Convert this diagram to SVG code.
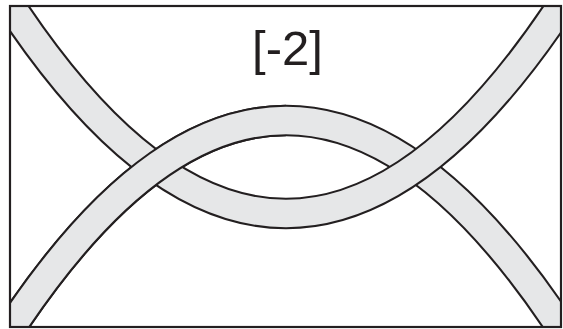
<svg xmlns="http://www.w3.org/2000/svg" width="563" height="329" viewBox="0 0 563 329">
  <style>
    .edge { fill: none; stroke: #231f20; stroke-width: 31.6; }
    .fill { fill: none; stroke: #e6e7e8; stroke-width: 27.4; }
    .label { font-family: "Liberation Sans", Arial, sans-serif; font-size: 49px; fill: #231f20; }
  </style>
  <defs>
    <clipPath id="frameClip">
      <rect x="10" y="6" width="551" height="321"/>
    </clipPath>
    <clipPath id="leftHalf">
      <rect x="0" y="0" width="286" height="329"/>
    </clipPath>
    <path id="arch" d="M -14 367.1 Q 286 -126.1 586 367.1"/>
    <path id="ucurve" d="M -14 -33.1 Q 286 460.1 586 -33.1"/>
  </defs>
  <rect x="0" y="0" width="563" height="329" fill="#ffffff"/>
  <g id="bands" clip-path="url(#frameClip)">
    <g id="band-arch">
      <use href="#arch" class="edge"/>
      <use href="#arch" class="fill"/>
    </g>
    <g id="band-u">
      <use href="#ucurve" class="edge"/>
      <use href="#ucurve" class="fill"/>
    </g>
    <g id="band-arch-over" clip-path="url(#leftHalf)">
      <use href="#arch" class="edge"/>
      <use href="#arch" class="fill"/>
    </g>
  </g>
  <rect id="frame" x="10" y="6" width="551" height="321" fill="none" stroke="#231f20" stroke-width="2.2"/>
  <text id="label" class="label" x="287.5" y="65" text-anchor="middle">[-2]</text>
</svg>
